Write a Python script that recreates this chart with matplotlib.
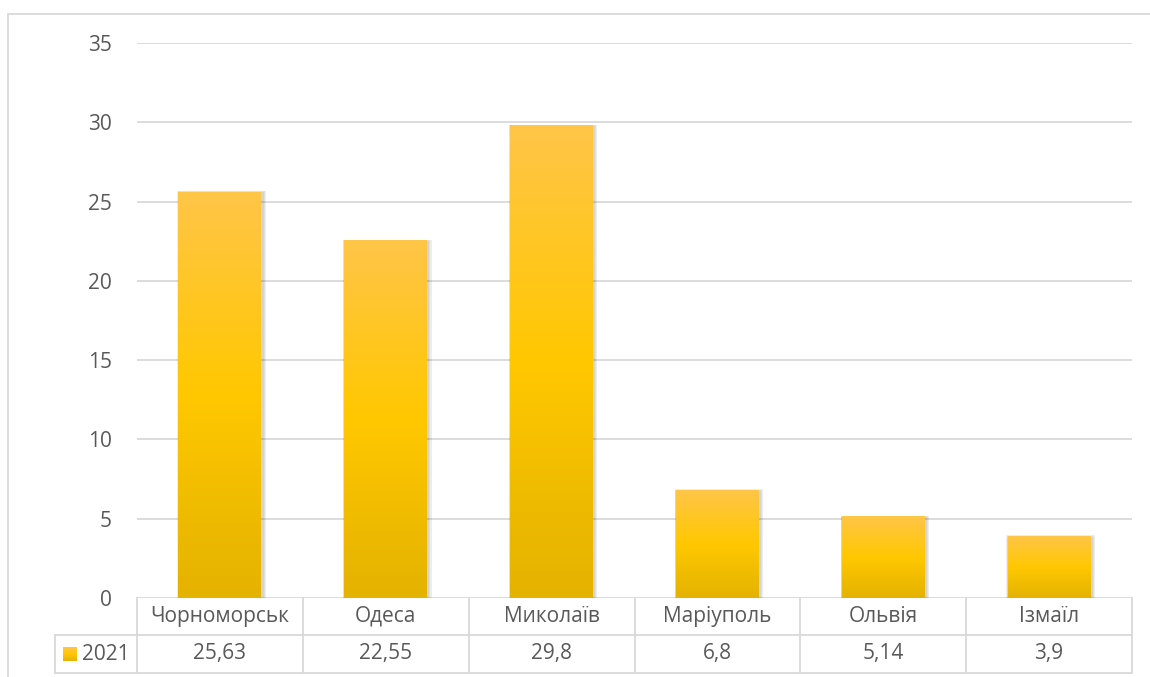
import numpy as np
import matplotlib.pyplot as plt
from matplotlib.patches import Rectangle
from matplotlib.colors import LinearSegmentedColormap

# données du graphique
ports = ['Чорноморськ', 'Одеса', 'Миколаїв', 'Маріуполь', 'Ольвія', 'Ізмаїл']
valeurs = [25.63, 22.55, 29.8, 6.8, 5.14, 3.9]
etiquettes = ['25,63', '22,55', '29,8', '6,8', '5,14', '3,9']
serie = '2021'
yticks = [0, 5, 10, 15, 20, 25, 30, 35]

W, H = 1150, 677
gris_texte = '#595959'
gris_ligne = '#D9D9D9'
taille = 15
plt.rcParams['font.family'] = ['Open Sans', 'DejaVu Sans']

fig = plt.figure(figsize=(W / 100, H / 100), dpi=100)

# bordure extérieure
fig.patches.append(Rectangle((8 / W, -0.01), 1.0, 1 - 14 / H + 0.01, transform=fig.transFigure,
                             fill=False, edgecolor=gris_ligne, lw=1.3))

x0, x1, y0, y1 = 137, 1132, 598, 43
ax = fig.add_axes([x0 / W, 1 - y0 / H, (x1 - x0) / W, (y0 - y1) / H])
for s in ax.spines.values():
    s.set_visible(False)
ax.set_xticks([])
ax.set_yticks(yticks)
ax.tick_params(axis='y', length=0, pad=18, labelsize=taille, labelcolor=gris_texte)
ax.grid(axis='y', color=gris_ligne, lw=1.3)
ax.set_axisbelow(True)

# dégradé jaune pour les barres
cmap = LinearSegmentedColormap.from_list('jaune', ['#E4B200', '#FFC800', '#FFC548'])
grad = np.linspace(0, 1, 256).reshape(-1, 1)
largeur = 0.5
for i, v in enumerate(valeurs):
    # ombre
    for k, a in enumerate([0.05, 0.05, 0.07]):
        d = 0.012 + k * 0.006
        ax.add_patch(Rectangle((i - largeur / 2 - d * 0.3, -0.1), largeur + d * 1.4, v + d * 6,
                               facecolor='black', alpha=a, lw=0, zorder=2))
    rect = Rectangle((i - largeur / 2, 0), largeur, v, facecolor='none', lw=0, zorder=3)
    ax.add_patch(rect)
    im = ax.imshow(grad, cmap=cmap, aspect='auto', origin='lower',
                   extent=(i - largeur / 2, i + largeur / 2, 0, v), zorder=3)
    im.set_clip_path(rect)
ax.set_xlim(-0.5, len(ports) - 0.5)
ax.set_ylim(0, 35)

# tableau de données
r0, r1, r2 = 598, 635, 673
col = (x1 - x0) / len(ports)
def fy(p):
    return 1 - p / H
def fx(p):
    return p / W

lignes = []
lignes.append(([x0, x1], [r1, r1]))
lignes.append(([55, x1], [r2, r2]))
lignes.append(([55, x0], [r1, r1]))
lignes.append(([55, 55], [r1, r2]))
for j in range(len(ports) + 1):
    xp = x0 + j * col
    lignes.append(([xp, xp], [r0, r2]))
for xs, ys in lignes:
    fig.add_artist(plt.Line2D([fx(a) for a in xs], [fy(b) for b in ys], color=gris_ligne, lw=1.3))

for j, (nom, lab) in enumerate(zip(ports, etiquettes)):
    xc = x0 + (j + 0.5) * col
    fig.text(fx(xc), fy((r0 + r1) / 2), nom, ha='center', va='center', fontsize=taille, color=gris_texte)
    fig.text(fx(xc), fy((r1 + r2) / 2), lab, ha='center', va='center', fontsize=taille, color=gris_texte)

# légende dans le tableau
leg = fig.add_axes([fx(63), fy(661), fx(77) - fx(63), fy(647) - fy(661)])
leg.imshow(grad, cmap=cmap, aspect='auto', origin='lower')
leg.axis('off')
fig.text(fx(82), fy((r1 + r2) / 2), serie, ha='left', va='center', fontsize=taille, color=gris_texte)

fig.savefig('out.png', dpi=100)
